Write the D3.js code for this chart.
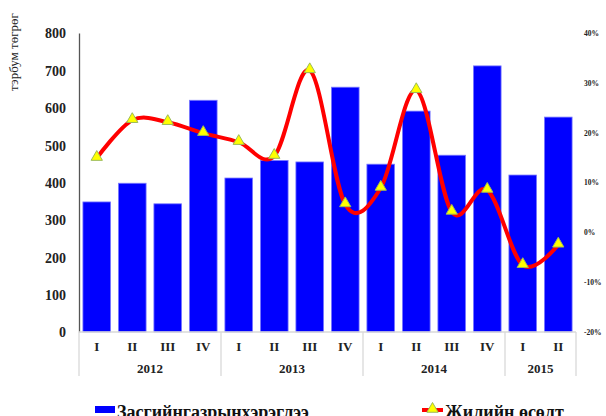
<!DOCTYPE html>
<html>
<head>
<meta charset="utf-8">
<script src="https://cdn.jsdelivr.net/npm/d3@7"></script>
<style>
  body { margin: 0; background: #fff; }
  svg { display: block; font-family: "Liberation Serif", "Times New Roman", serif; font-weight: bold; }
</style>
</head>
<body>
<svg id="chart" width="606" height="416"></svg>
<script>
// quarters and years along the bottom
var quarters = ["I", "II", "III", "IV", "I", "II", "III", "IV", "I", "II", "III", "IV", "I", "II"];
var years = ["2012", "2013", "2014", "2015"];
var yearSpan = [4, 4, 4, 2];

// government spending, bn togrog (left axis)
var spending = [348, 398, 343, 620, 412, 459, 455, 655, 449, 591, 473, 712, 420, 575];
// annual growth, % (right axis)
var growth = [14.9, 22.5, 22.1, 19.9, 18.1, 15.3, 32.5, 5.6, 8.9, 28.5, 4.1, 8.5, -6.6, -2.5];

var leftTicks = [0, 100, 200, 300, 400, 500, 600, 700, 800];
var rightTicks = [-20, -10, 0, 10, 20, 30, 40];

var seriesNames = ["Засгийнгазрынхэрэглээ", "Жилийн өсөлт"];

var svg = d3.select("#chart");
var plotLeft = 79, plotRight = 576, plotTop = 33, plotBottom = 332;

var idx = d3.range(quarters.length);
var x = d3.scaleBand().domain(idx).range([plotLeft, plotRight]).paddingInner(0.22).paddingOuter(0.11);
var xStep = (plotRight - plotLeft) / quarters.length;
var y = d3.scaleLinear().domain([0, 800]).range([plotBottom, plotTop]);
var y2 = d3.scaleLinear().domain([-20, 40]).range([plotBottom, plotTop]);

// bars
svg.append("g").selectAll("rect")
  .data(spending)
  .enter().append("rect")
  .attr("x", (d, i) => x(i))
  .attr("y", d => y(d))
  .attr("width", x.bandwidth())
  .attr("height", d => y(0) - y(d))
  .attr("fill", "#0000ff")
  .attr("stroke", "#7b7bff")
  .attr("stroke-width", 0.8);

// left axis
var yAxis = svg.append("g")
  .attr("transform", "translate(" + plotLeft + ",0)")
  .call(d3.axisLeft(y).tickValues(leftTicks).tickSize(0).tickPadding(13));
yAxis.select(".domain").attr("stroke", "#555").attr("stroke-width", 1.3);
yAxis.selectAll("text").attr("font-size", 14).attr("font-family", "Liberation Serif").attr("font-weight", "bold").attr("fill", "#222").attr("dy", "0.35em");

// right axis
var y2Axis = svg.append("g")
  .attr("transform", "translate(584,0)")
  .call(d3.axisRight(y2).tickValues(rightTicks).tickSize(0).tickPadding(0).tickFormat(d => d + "%"));
y2Axis.select(".domain").remove();
y2Axis.selectAll("text").attr("font-size", 7.5).attr("font-family", "Liberation Serif").attr("font-weight", "bold").attr("fill", "#222");

// category axis: baseline, dividers, labels
var xg = svg.append("g");
xg.append("line")
  .attr("x1", plotLeft).attr("x2", plotRight).attr("y1", plotBottom).attr("y2", plotBottom)
  .attr("stroke", "#d9d9d9").attr("stroke-width", 1.3);

var bounds = [0];
yearSpan.forEach(n => bounds.push(bounds[bounds.length - 1] + n));
xg.selectAll("line.div")
  .data(bounds)
  .enter().append("line")
  .attr("class", "div")
  .attr("x1", d => plotLeft + d * xStep).attr("x2", d => plotLeft + d * xStep)
  .attr("y1", plotBottom).attr("y2", 376)
  .attr("stroke", "#d9d9d9").attr("stroke-width", 1.3);

xg.selectAll("text.q")
  .data(quarters)
  .enter().append("text")
  .attr("class", "q")
  .attr("x", (d, i) => x(i) + x.bandwidth() / 2)
  .attr("y", 351)
  .attr("text-anchor", "middle")
  .attr("font-size", 13)
  .attr("fill", "#222")
  .text(d => d);

xg.selectAll("text.yr")
  .data(years)
  .enter().append("text")
  .attr("class", "yr")
  .attr("x", (d, i) => plotLeft + (bounds[i] + yearSpan[i] / 2) * xStep)
  .attr("y", 373)
  .attr("text-anchor", "middle")
  .attr("font-size", 13)
  .attr("fill", "#222")
  .text(d => d);

// growth line
var line = d3.line()
  .x((d, i) => x(i) + x.bandwidth() / 2)
  .y(d => y2(d))
  .curve(d3.curveCatmullRom.alpha(0));

svg.append("path")
  .datum(growth)
  .attr("d", line)
  .attr("fill", "none")
  .attr("stroke", "#ff0000")
  .attr("stroke-width", 4)
  .attr("stroke-linejoin", "round");

var tri = d3.symbol().type(d3.symbolTriangle).size(55);
svg.append("g").selectAll("path")
  .data(growth)
  .enter().append("path")
  .attr("d", tri)
  .attr("transform", (d, i) => "translate(" + (x(i) + x.bandwidth() / 2) + "," + (y2(d) - 1) + ")")
  .attr("fill", "#ffff00")
  .attr("stroke", "#9bbb59")
  .attr("stroke-width", 1);

// y axis title
svg.append("text")
  .attr("transform", "translate(18,52) rotate(-90)")
  .attr("text-anchor", "middle")
  .attr("font-size", 13)
  .attr("font-weight", "normal")
  .attr("fill", "#222")
  .text("тэрбум төгрөг");

// legend (cut at the bottom edge like the reference)
var lg = svg.append("g");
lg.append("rect").attr("x", 95).attr("y", 406).attr("width", 20).attr("height", 7).attr("fill", "#0000ff");
lg.append("text").attr("x", 117).attr("y", 418).attr("font-size", 18).attr("fill", "#111").text(seriesNames[0]);
lg.append("line").attr("x1", 422).attr("x2", 443).attr("y1", 410).attr("y2", 410)
  .attr("stroke", "#ff0000").attr("stroke-width", 4);
lg.append("path").attr("d", tri).attr("transform", "translate(432.5,409)")
  .attr("fill", "#ffff00").attr("stroke", "#9bbb59").attr("stroke-width", 1);
lg.append("text").attr("x", 445).attr("y", 418).attr("font-size", 18).attr("fill", "#111").text(seriesNames[1]);
</script>
</body>
</html>
